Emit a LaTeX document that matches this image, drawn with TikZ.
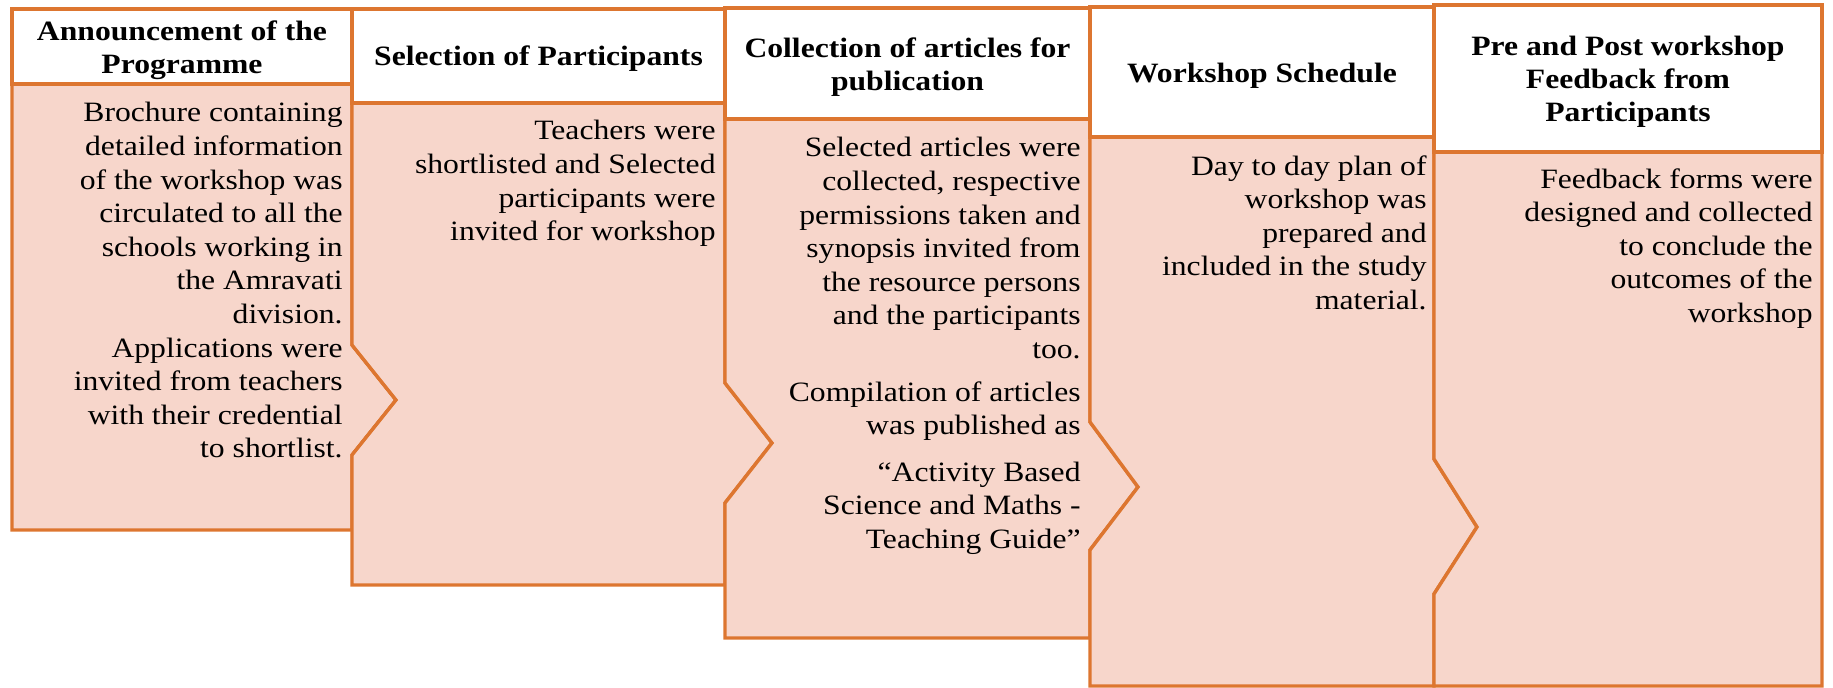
\documentclass[tikz,border=0pt]{standalone}
\usepackage{fontspec}
\setmainfont{Liberation Serif}[FakeStretch=1.13]
\usepackage{xcolor}

\definecolor{stepedge}{RGB}{221,118,48}
\definecolor{stepfill}{RGB}{247,214,203}

\begin{document}
\begin{tikzpicture}[x=0.5pt, y=-0.5pt,
  outline/.style={draw=stepedge, line width=1.7pt, line join=miter},
  headbox/.style={outline, fill=white},
  bodybox/.style={outline, fill=stepfill},
  headtext/.style={font=\fontsize{14}{16.5}\selectfont\bfseries, align=center, inner sep=0pt},
  bodytext/.style={font=\fontsize{14}{16.8}\selectfont, align=right, inner sep=0pt, anchor=north east}]

\useasboundingbox (0,0) rectangle (1833,688);

% Column 1: announcement
\draw[bodybox] (12,84) -- (352,84) -- (352,345) -- (396,400) -- (352,455) -- (352,530) -- (12,530) -- cycle;
\draw[headbox] (12,9) rectangle (352,84);

% Column 2: selection
\draw[bodybox] (352,103) -- (725,103) -- (725,383) -- (772,443) -- (725,503) -- (725,585)
  -- (352,585) -- (352,455) -- (396,400) -- (352,345) -- cycle;
\draw[headbox] (352,9) rectangle (725,103);

% Column 3: articles
\draw[bodybox] (725,119) -- (1090,119) -- (1090,422) -- (1138,487) -- (1090,550) -- (1090,638)
  -- (725,638) -- (725,503) -- (772,443) -- (725,383) -- cycle;
\draw[headbox] (725,8) rectangle (1090,119);

% Column 4: schedule
\draw[bodybox] (1090,137) -- (1434,137) -- (1434,459) -- (1477,527) -- (1434,594) -- (1434,686)
  -- (1090,686) -- (1090,550) -- (1138,487) -- (1090,422) -- cycle;
\draw[headbox] (1090,7) rectangle (1434,137);

% Column 5: feedback
\draw[bodybox] (1434,152) -- (1822,152) -- (1822,686) -- (1434,686) -- (1434,594) -- (1477,527) -- (1434,459) -- cycle;
\draw[headbox] (1434,5) rectangle (1822,152);

% Headings
\node[headtext] (announce) at (182,50) {Announcement of the\\Programme};
\node[headtext] (select) at (538.5,59) {Selection of Participants};
\node[headtext] (collect) at (907.5,67) {Collection of articles for\\publication};
\node[headtext] (schedule) at (1262,76) {Workshop Schedule};
\node[headtext] (feedback) at (1628,82) {Pre and Post workshop\\Feedback from\\Participants};

% Descriptions
\node[bodytext] (announcetxt) at (343,102) {Brochure containing\\detailed information\\of the workshop was\\circulated to all the\\schools working in\\the Amravati\\division.\\Applications were\\invited from teachers\\with their credential\\to shortlist.};
\node[bodytext] (selecttxt) at (716,120) {Teachers were\\shortlisted and Selected\\participants were\\invited for workshop};
\node[bodytext] (collecttxt) at (1081,137) {Selected articles were\\collected, respective\\permissions taken  and\\synopsis invited from\\the resource persons\\and the participants\\too.\\[4.5pt]Compilation of articles\\was published as\\[6.5pt]“Activity Based\\Science and Maths -\\Teaching Guide”};
\node[bodytext] (scheduletxt) at (1427,155) {Day to day plan of\\workshop was\\prepared and\\included in the study\\material.};
\node[bodytext] (feedbacktxt) at (1813,168) {Feedback forms were\\designed and collected\\to conclude the\\outcomes of the\\workshop};

\end{tikzpicture}
\end{document}
